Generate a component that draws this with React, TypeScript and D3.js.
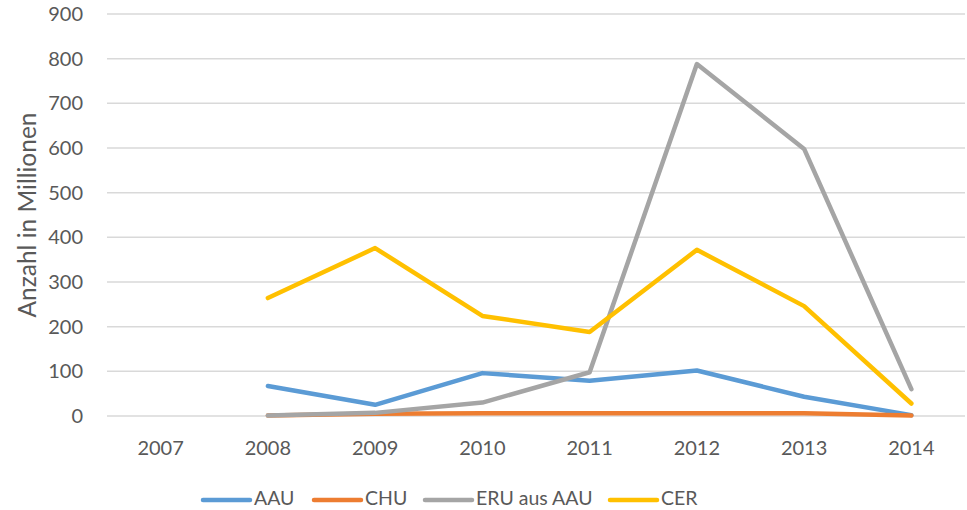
import React from "react";
import * as d3 from "d3";

const years = ["2007", "2008", "2009", "2010", "2011", "2012", "2013", "2014"];
const seriesNames = ["AAU", "CHU", "ERU aus AAU", "CER"];
const aau = [null, 67, 25, 96, 79, 102, 43, 2];
const chu = [null, 1, 5, 6, 6, 6, 6, 1];
const eru = [null, 1, 7, 30, 98, 788, 598, 60];
const cer = [null, 264, 376, 224, 188, 372, 246, 28];
const colors = ["#5B9BD5", "#ED7D31", "#A5A5A5", "#FFC000"];
const yTicks = [0, 100, 200, 300, 400, 500, 600, 700, 800, 900];

const W = 967, H = 510;
const left = 107, right = 965, top = 14, bottom = 416;
const font = "Lato, 'Open Sans', sans-serif";
const textColor = "#595959";

export default function App() {
  const x = d3.scaleBand<string>().domain(years).range([left, right]);
  const y = d3.scaleLinear().domain([0, 900]).range([bottom, top]);
  const cx = (yr: string) => (x(yr) as number) + x.bandwidth() / 2;
  const data = [aau, chu, eru, cer];
  const line = d3
    .line<[string, number | null]>()
    .defined((d) => d[1] !== null)
    .x((d) => cx(d[0]))
    .y((d) => y(d[1] as number));

  const legendX = [203, 314, 425, 610];
  const legendY = 499;

  return (
    <svg width={W} height={H} style={{ position: "absolute", left: 0, top: 0 }}>
      <rect width={W} height={H} fill="#fff" />
      {yTicks.map((t) => (
        <g key={t}>
          <line x1={left} x2={right} y1={y(t)} y2={y(t)} stroke="#D9D9D9" strokeWidth={1.5} />
          <text x={83} y={y(t)} dy="0.35em" textAnchor="end" fontFamily={font} fontSize={20} fill={textColor}>
            {t}
          </text>
        </g>
      ))}
      {years.map((yr) => (
        <text key={yr} x={cx(yr)} y={448} dy="0.35em" textAnchor="middle" fontFamily={font} fontSize={20} fill={textColor}>
          {yr}
        </text>
      ))}
      <text
        transform={`translate(27, ${(top + bottom) / 2}) rotate(-90)`}
        textAnchor="middle"
        dy="0.35em"
        fontFamily={font}
        fontSize={24.5}
        fill={textColor}
      >
        Anzahl in Millionen
      </text>
      {data.map((vals, i) => (
        <path
          key={i}
          d={line(years.map((yr, j) => [yr, vals[j]] as [string, number | null])) || ""}
          fill="none"
          stroke={colors[i]}
          strokeWidth={4.5}
          strokeLinejoin="round"
          strokeLinecap="round"
        />
      ))}
      {seriesNames.map((name, i) => (
        <g key={name}>
          <line x1={legendX[i]} x2={legendX[i] + 47} y1={legendY + 1} y2={legendY + 1} stroke={colors[i]} strokeWidth={4.5} strokeLinecap="round" />
          <text x={legendX[i] + 51} y={legendY} dy="0.32em" fontFamily={font} fontSize={19.5} fill={textColor}>
            {name}
          </text>
        </g>
      ))}
    </svg>
  );
}
